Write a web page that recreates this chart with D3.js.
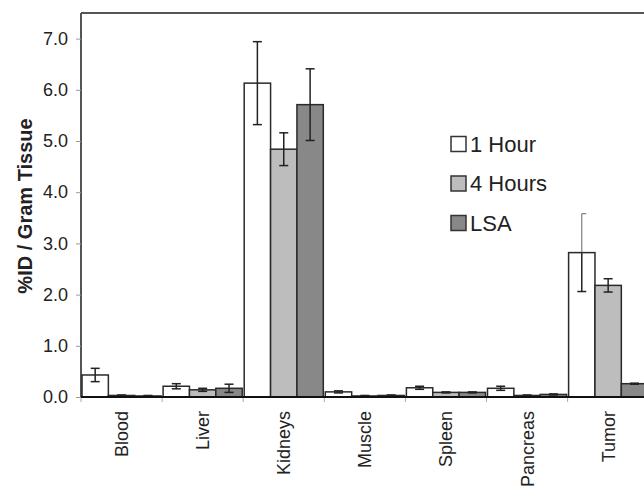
<!DOCTYPE html>
<html>
<head>
<meta charset="utf-8">
<script src="https://d3js.org/d3.v7.min.js"></script>
<style>
    body { margin: 0; background: #fff; }
    svg { display: block; font-family: "Liberation Sans", Arial, sans-serif; }
</style>
</head>
<body>
<svg id="chart" width="644" height="487"></svg>
<script>
// data
const categories = ["Blood", "Liver", "Kidneys", "Muscle", "Spleen", "Pancreas", "Tumor"];
const seriesNames = ["1 Hour", "4 Hours", "LSA"];
const hour1 = [0.43, 0.21, 6.13, 0.10, 0.18, 0.17, 2.82];
const hour1Err = [0.13, 0.05, 0.81, 0.02, 0.03, 0.04, 0.76];
const hour4 = [0.03, 0.14, 4.84, 0.02, 0.09, 0.03, 2.18];
const hour4Err = [0.01, 0.03, 0.32, 0.01, 0.01, 0.01, 0.13];
const lsa = [0.02, 0.17, 5.71, 0.03, 0.09, 0.05, 0.26];
const lsaErr = [0.01, 0.08, 0.70, 0.01, 0.01, 0.01, 0.01];
const yTicks = [0, 1, 2, 3, 4, 5, 6, 7];

const seriesValues = [hour1, hour4, lsa];
const seriesErrors = [hour1Err, hour4Err, lsaErr];
const fills = ["#ffffff", "#bdbdbd", "#888888"];

let svg = d3.select("#chart");

let plotLeft = 81, plotTop = 13, plotBottom = 397, bandW = 81.1;

let x = d3.scaleBand()
    .domain(categories)
    .range([plotLeft, plotLeft + bandW * categories.length])
    .padding(0);

let xSub = d3.scaleBand()
    .domain(seriesNames)
    .range([1, x.bandwidth() - 1])
    .padding(0);

let y = d3.scaleLinear()
    .domain([0, 7.5])
    .range([plotBottom, plotTop]);

// frame: top line
svg.append("line")
    .attr("x1", plotLeft).attr("y1", plotTop)
    .attr("x2", 644).attr("y2", plotTop)
    .attr("stroke", "#555").attr("stroke-width", 2);

// y axis
let yAxis = svg.append("g")
    .attr("transform", `translate(${plotLeft},0)`)
    .call(d3.axisLeft(y).tickValues(yTicks).tickFormat(d3.format(".1f")).tickSize(5).tickPadding(8));
yAxis.select(".domain").attr("stroke", "#555").attr("stroke-width", 2)
    .attr("d", `M0,${plotTop}V${plotBottom}`);
yAxis.selectAll(".tick line").attr("stroke", "#999");
yAxis.selectAll(".tick text")
    .attr("font-size", "18px")
    .attr("fill", "#222");

// category boundary ticks
let bounds = categories.map(c => x(c)).concat([x(categories[categories.length - 1]) + x.bandwidth()]);
svg.selectAll(".xtick").data(bounds).enter().append("line")
    .attr("x1", d => d).attr("x2", d => d)
    .attr("y1", plotBottom).attr("y2", plotBottom + 5)
    .attr("stroke", "#aaa");

// bars
seriesNames.forEach((s, si) => {
    let g = svg.append("g");
    g.selectAll("rect").data(categories).enter().append("rect")
        .attr("x", c => x(c) + xSub(s))
        .attr("y", (c, i) => y(seriesValues[si][i]))
        .attr("width", xSub.bandwidth())
        .attr("height", (c, i) => plotBottom - y(seriesValues[si][i]))
        .attr("fill", fills[si])
        .attr("stroke", "#2a2a2a")
        .attr("stroke-width", 1.5);
});

// error bars
seriesNames.forEach((s, si) => {
    categories.forEach((c, i) => {
        let v = seriesValues[si][i], e = seriesErrors[si][i];
        let cx = x(c) + xSub(s) + xSub.bandwidth() / 2;
        let thinTop = (c === "Tumor" && si === 0);
        // upper whisker
        svg.append("line")
            .attr("x1", cx).attr("x2", cx)
            .attr("y1", y(v)).attr("y2", y(v + e))
            .attr("stroke", thinTop ? "#666" : "#222")
            .attr("stroke-width", thinTop ? 1 : 1.5);
        // lower whisker
        svg.append("line")
            .attr("x1", cx).attr("x2", cx)
            .attr("y1", y(v)).attr("y2", y(Math.max(0, v - e)))
            .attr("stroke", "#222").attr("stroke-width", 1.5);
        // caps
        [v + e, Math.max(0, v - e)].forEach((cv, k) => {
            let thin = thinTop && k === 0;
            svg.append("line")
                .attr("x1", cx - (thin ? 0 : 4.5)).attr("x2", cx + 4.5)
                .attr("y1", y(cv)).attr("y2", y(cv))
                .attr("stroke", thin ? "#666" : "#222")
                .attr("stroke-width", thin ? 1 : 1.5);
        });
    });
});

// baseline
svg.append("line")
    .attr("x1", plotLeft).attr("y1", plotBottom)
    .attr("x2", 644).attr("y2", plotBottom)
    .attr("stroke", "#111").attr("stroke-width", 2);

// category labels
svg.selectAll(".xlabel").data(categories).enter().append("text")
    .attr("transform", c => `translate(${x(c) + x.bandwidth() / 2 + 6.5},411) rotate(-90)`)
    .attr("text-anchor", "end")
    .attr("font-size", "18px")
    .attr("fill", "#222")
    .text(c => c);

// y label
svg.append("text")
    .attr("transform", "translate(32,206) rotate(-90)")
    .attr("text-anchor", "middle")
    .attr("font-size", "20px")
    .attr("font-weight", "bold")
    .attr("fill", "#222")
    .text("%ID / Gram Tissue");

// legend
let legend = svg.append("g").attr("transform", "translate(451,143.5)");
seriesNames.forEach((s, si) => {
    let row = legend.append("g").attr("transform", `translate(0,${si * 39.5})`);
    row.append("rect")
        .attr("x", 0).attr("y", -7)
        .attr("width", 15).attr("height", 15)
        .attr("fill", fills[si])
        .attr("stroke", "#333").attr("stroke-width", 1.5);
    row.append("text")
        .attr("x", 19).attr("y", 8)
        .attr("font-size", "22px")
        .attr("fill", "#222")
        .text(s);
});
</script>
</body>
</html>
